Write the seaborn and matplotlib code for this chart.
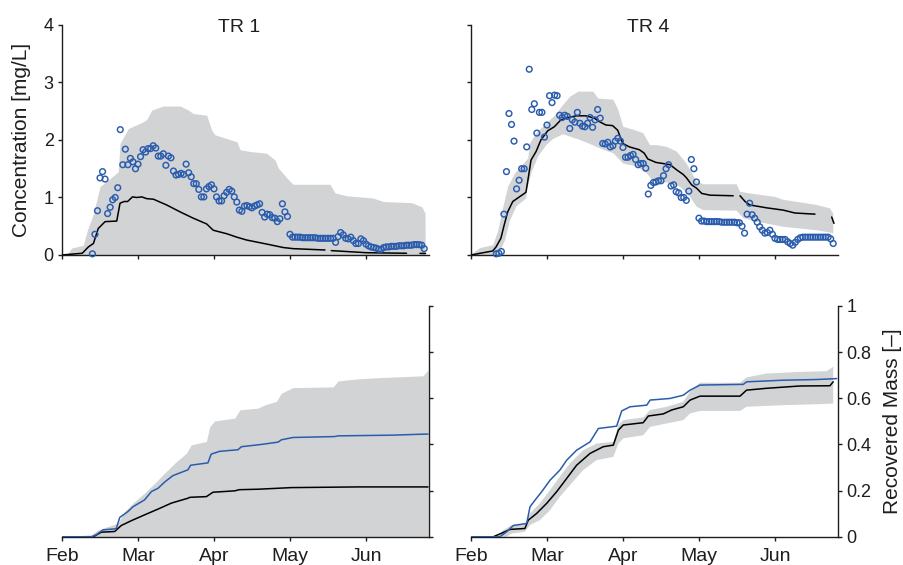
import numpy as np
import pandas as pd
import matplotlib
matplotlib.use("Agg")
import matplotlib.pyplot as plt
import seaborn as sns

nan = np.nan

# ---------------- axis / label data ----------------
month_ticks = [0, 30, 60, 90, 120]
month_labels = ["Feb", "Mar", "Apr", "May", "Jun"]
conc_ticks = [0, 1, 2, 3, 4]
mass_ticks = [0, 0.2, 0.4, 0.6, 0.8, 1.0]
mass_tick_labels = ["0", "0.2", "0.4", "0.6", "0.8", "1"]
panel_titles = ["TR 1", "TR 4"]

# ---------------- TR 1 concentration ----------------
tr1_obs_first_day = 12
tr1_obs = [0.02, 0.36, 0.77, 1.34, 1.45, 1.32, 0.72, 0.83, 0.96, 1.00, 1.17,
           2.18, 1.57, 1.84, 1.57, 1.68, 1.62, 1.50, 1.58, 1.71, 1.83,
           1.79, 1.85, 1.85, 1.90, 1.86, 1.72, 1.72, 1.76, 1.56, 1.72,
           1.69, 1.46, 1.39, 1.40, 1.42, 1.40, 1.58, 1.43, 1.36, 1.24,
           1.24, 1.14, 1.01, 1.01, 1.15, 1.19, 1.22, 1.15, 1.01, 0.94,
           0.94, 1.03, 1.09, 1.14, 1.11, 1.01, 0.92, 0.78, 0.76, 0.85,
           0.86, 0.84, 0.82, 0.85, 0.87, 0.89, 0.74, 0.66, 0.71, 0.70,
           0.65, 0.64, 0.58, 0.63, 0.89, 0.75, 0.67, 0.36, 0.31, 0.31,
           0.31, 0.31, 0.30, 0.30, 0.30, 0.30, 0.30, 0.30, 0.29, 0.29,
           0.29, 0.29, 0.29, 0.29, 0.29, 0.22, 0.32, 0.39, 0.35, 0.29,
           0.28, 0.31, 0.25, 0.20, 0.20, 0.28, 0.25, 0.19, 0.16, 0.14,
           0.13, 0.12, 0.10, 0.10, 0.13, 0.14, 0.14, 0.15, 0.15, 0.15,
           0.16, 0.16, 0.16, 0.17, 0.17, 0.17, 0.18, 0.18, 0.18, 0.17, 0.11]

tr1_sim_days = [0, 8, 10.4, 12.4, 14.3, 17, 21.6, 22.9, 24.5, 25.9, 27.8, 29.5,
                31.5, 33.4, 36.1, 41.3, 46.6, 51.8, 57.1, 59.7, 65, 69, 72.9,
                80.8, 87.3, 91.3, 103.8, nan, 106.3, 120, 136, nan, 141.3, 143.5]
tr1_sim = [0, 0.03, 0.14, 0.20, 0.46, 0.58, 0.59, 0.90, 0.93, 0.93, 1.01, 1.00,
           1.01, 0.98, 0.97, 0.87, 0.75, 0.64, 0.54, 0.43, 0.37, 0.31, 0.26,
           0.19, 0.13, 0.11, 0.087, nan, 0.076, 0.04, 0.03, nan, 0.028, 0.027]

tr1_band_days = [1.8, 3.8, 8.4, 10, 12.4, 15, 19, 22.2, 22.9, 26.2, 30.8, 33.4,
                 35.4, 40, 46.6, 49.9, 51.8, 57.1, 59.1, 60.4, 69, 70.3, 74.2,
                 80.8, 84.1, 85.4, 90, 91.3, 105.8, 107.8, 112.4, 122.9, 126.8,
                 138, 142, 143.3, 143.4]
tr1_band_hi = [0, 0.12, 0.17, 0.43, 0.72, 1.19, 1.33, 1.45, 1.94, 2.20, 2.29, 2.35,
               2.52, 2.59, 2.59, 2.52, 2.46, 2.43, 2.17, 2.09, 1.97, 1.83, 1.80,
               1.77, 1.65, 1.51, 1.28, 1.23, 1.23, 1.08, 1.03, 0.99, 0.93,
               0.91, 0.84, 0.73, 0]

# ---------------- TR 4 concentration ----------------
tr4_obs_first_day = 10
tr4_obs = [0.02, 0.03, 0.06, 0.71, 1.45, 2.46, 2.27, 1.98, 1.15, 1.30,
           1.50, 1.50, 1.88, 3.23, 2.53, 2.63, 2.12, 2.48, 2.48, 2.05,
           2.26, 2.77, 2.65, 2.78, 2.77, 2.43, 2.39, 2.43, 2.41, 2.20,
           2.35, 2.31, 2.48, 2.29, 2.24, 2.23, 2.29, 2.39, 2.22, 2.35,
           2.53, 2.38, 1.94, 1.93, 1.96, 1.88, 1.90, 1.98, 2.03, 1.98,
           1.87, 1.70, 1.70, 1.73, 1.75, 1.66, 1.57, 1.59, 1.59, 1.51,
           1.06, 1.21, 1.26, 1.27, 1.29, 1.29, 1.38, 1.50, 1.57, 1.20,
           1.22, 1.10, 1.08, 1.00, 1.00, 0.95, 1.11, 1.66, 1.50, 1.27,
           0.64, 0.59, 0.59, 0.58, 0.58, 0.58, 0.58, 0.58, 0.58, 0.57,
           0.57, 0.57, 0.57, 0.57, 0.57, 0.56, 0.56, 0.50, 0.38, 0.71,
           0.90, 0.70, 0.64, 0.57, 0.49, 0.43, 0.38, 0.39, 0.43, 0.36,
           0.29, 0.27, 0.27, 0.27, 0.27, 0.23, 0.20, 0.17, 0.22, 0.27,
           0.30, 0.31, 0.31, 0.31, 0.31, 0.31, 0.31, 0.31, 0.31, 0.31,
           0.31, 0.31, 0.28, 0.20]

tr4_sim_days = [0, 8.6, 9.9, 11.8, 13.1, 14.5, 16.5, 19.1, 21.7, 22.4, 23.7, 25.7,
                27.6, 30.3, 32.9, 35.5, 38.2, 41.5, 45.4, 48.7, 50.6, 53.3, 55.9,
                57.9, 59.9, 62.5, 66.5, 68.4, 69.8, 73.0, 75.9, 78.6, 81.2, 83.8,
                85.1, 87.1, 89.1, 91.1, 94.4, 103.5, nan, 106.2, 108.2, 110.1,
                116.7, 123.3, 127.9, 135.8, nan, 142.4, 143.3]
tr4_sim = [0, 0.07, 0.14, 0.29, 0.52, 0.75, 0.93, 1.01, 1.09, 1.28, 1.65, 1.80,
           2.00, 2.16, 2.23, 2.35, 2.39, 2.42, 2.42, 2.38, 2.32, 2.26, 2.25,
           2.17, 1.94, 1.88, 1.83, 1.77, 1.67, 1.61, 1.59, 1.57, 1.48, 1.40,
           1.34, 1.22, 1.16, 1.07, 1.04, 1.03, nan, 1.03, 0.93, 0.87,
           0.82, 0.78, 0.73, 0.71, nan, 0.66, 0.55]

tr4_band_hi_days = [0, 3.6, 8.8, 10.8, 12.8, 14.7, 17.4, 20.0, 22.6, 23.3, 25.9,
                    29.2, 33.2, 36.4, 39.1, 42.4, 48.3, 50.3, 56.2, 58.2, 60.1,
                    64.7, 68.0, 70.7, 73.3, 77.3, 81.2, 85.1, 89.1, 91.7, 104.9,
                    106.2, 110.1, 120, 123.3, 136.5, 141.7, 143]
tr4_band_hi = [0, 0.12, 0.17, 0.43, 0.84, 1.19, 1.42, 1.54, 1.68, 1.94, 2.12,
               2.26, 2.43, 2.61, 2.75, 2.84, 2.84, 2.72, 2.70, 2.52, 2.23,
               2.17, 2.12, 1.91, 1.91, 1.88, 1.80, 1.59, 1.28, 1.23, 1.23,
               1.10, 1.07, 1.01, 0.96, 0.87, 0.81, 0.72]
tr4_band_lo_days = [0, 10.8, 13.4, 15.4, 18.0, 21.7, 22.2, 24.0, 26.6, 29.9, 32.5,
                    36.4, 42.4, 47.0, 52.2, 56.2, 60.1, 65.4, 69.4, 72.0, 77.3,
                    82.5, 86.5, 89.1, 91.7, 104.9, 107.5, 112.8, 123.3, 136.5, 143]
tr4_band_lo = [0, 0, 0.25, 0.60, 0.85, 0.98, 1.15, 1.45, 1.72, 1.92, 2.02,
               2.10, 2.01, 1.93, 1.83, 1.77, 1.59, 1.54, 1.42, 1.28, 1.26,
               1.19, 1.01, 0.84, 0.78, 0.77, 0.64, 0.58, 0.49, 0.43, 0.38]

# ---------------- TR 1 recovered mass ----------------
tr1_mass_obs_days = [0, 11.6, 13.5, 16.2, 21.4, 22.8, 26.1, 28.0, 32.6, 35.3, 37.9,
                     40.5, 43.8, 49.7, 50.8, 57.6, 58.9, 62.2, 69.5, 70.8, 78.7,
                     85.3, 86.6, 91.2, 107.6, 109, 130, 144.5]
tr1_mass_obs = [0, 0, 0.009, 0.03, 0.035, 0.084, 0.11, 0.13, 0.16, 0.196, 0.21,
                0.237, 0.265, 0.29, 0.31, 0.32, 0.358, 0.37, 0.377, 0.39, 0.40,
                0.41, 0.42, 0.43, 0.434, 0.437, 0.44, 0.445]
tr1_mass_sim_days = [0, 12.3, 15.5, 20.8, 23.4, 27.4, 32.6, 37.9, 43.2, 49.7, 50.5,
                     57.0, 59.6, 68.2, 70, 77.4, 90.5, 116.9, 144.5]
tr1_mass_sim = [0, 0, 0.02, 0.023, 0.049, 0.07, 0.095, 0.12, 0.146, 0.167, 0.171,
                0.174, 0.193, 0.199, 0.204, 0.206, 0.213, 0.216, 0.216]
tr1_mass_band_days = [0, 11.6, 14.2, 18.2, 22.1, 24.7, 28.7, 32.6, 36.6, 40.5, 44.5,
                      49.1, 51.0, 57.0, 58.3, 60.3, 68.2, 70.2, 77.4, 80.0, 84.6,
                      86.6, 91.2, 107, 109, 116.9, 126.7, 142.5, 144.5]
tr1_mass_band_hi = [0, 0.009, 0.03, 0.045, 0.059, 0.11, 0.153, 0.19, 0.232, 0.276,
                    0.319, 0.362, 0.398, 0.413, 0.477, 0.502, 0.514, 0.55, 0.557,
                    0.571, 0.586, 0.622, 0.646, 0.649, 0.675, 0.684, 0.69, 0.697, 0.723]

# ---------------- TR 4 recovered mass ----------------
tr4_mass_obs_days = [0, 11.4, 14.1, 16.7, 22.0, 23.3, 25.3, 27.9, 31.2, 35.1, 37.8,
                     41.7, 47.0, 50.3, 57.5, 59.5, 62.8, 69.4, 70.7, 78.6, 83.8,
                     86.5, 90.4, 107.5, 108.8, 123.3, 136.5, 144.4]
tr4_mass_obs = [0, 0, 0.022, 0.049, 0.058, 0.13, 0.159, 0.195, 0.245, 0.289, 0.332,
                0.375, 0.411, 0.469, 0.479, 0.545, 0.563, 0.57, 0.592, 0.599, 0.613,
                0.635, 0.657, 0.66, 0.671, 0.678, 0.681, 0.685]
tr4_mass_sim_days = [0, 8.8, 13.4, 15.4, 21.3, 22.6, 25.9, 29.9, 33.8, 37.8, 41.7,
                     47.0, 52.2, 56.2, 58.2, 60.1, 68.0, 70.0, 75.9, 79.2, 83.8,
                     86.5, 90.4, 106.2, 108.8, 116.7, 129.9, 141.7, 143]
tr4_mass_sim = [0, 0, 0.022, 0.032, 0.036, 0.072, 0.101, 0.145, 0.195, 0.253, 0.31,
                0.361, 0.39, 0.397, 0.462, 0.484, 0.494, 0.523, 0.532, 0.549, 0.563,
                0.592, 0.609, 0.609, 0.635, 0.643, 0.653, 0.654, 0.671]
tr4_mass_band_hi_days = [0, 10, 12.8, 16.1, 21.3, 23.3, 27.2, 31.2, 35.1, 39.1, 44.3,
                         49.6, 56.2, 58.2, 60.1, 68.0, 70.7, 77.3, 83.8, 86.5, 90.4,
                         106.2, 108.8, 116.7, 129.9, 140.4, 143]
tr4_mass_band_hi = [0, 0, 0.029, 0.051, 0.054, 0.101, 0.145, 0.202, 0.261, 0.318,
                    0.375, 0.404, 0.411, 0.484, 0.505, 0.517, 0.549, 0.563, 0.585,
                    0.628, 0.667, 0.667, 0.69, 0.707, 0.714, 0.717, 0.736]
tr4_mass_band_lo_days = [0, 14, 16.1, 21.3, 23.3, 27.2, 31.2, 35.1, 39.1, 44.3, 49.6,
                         56.2, 58.2, 60.1, 68.0, 70.7, 77.3, 83.8, 86.5, 90.4, 106.2,
                         108.8, 123.3, 136.5, 143]
tr4_mass_band_lo = [0, 0, 0.014, 0.022, 0.051, 0.072, 0.115, 0.174, 0.224, 0.289,
                    0.332, 0.346, 0.404, 0.426, 0.44, 0.476, 0.491, 0.505, 0.534,
                    0.545, 0.545, 0.563, 0.57, 0.574, 0.577]

# ---------------- style ----------------
sns.set_style("ticks")
plt.rcParams['font.family'] = ['Liberation Sans', 'DejaVu Sans']
ink = "#1e1e1e"
blue = "#2a5cad"
band = "#d1d3d5"
plt.rcParams.update({
    "axes.edgecolor": ink, "axes.linewidth": 1.0,
    "xtick.color": ink, "ytick.color": ink,
    "xtick.major.size": 3.0, "ytick.major.size": 3.0,
    "xtick.major.width": 1.0, "ytick.major.width": 1.0,
    "text.color": ink, "axes.labelcolor": ink,
})

fig = plt.figure(figsize=(9.04, 5.65), dpi=100)
L1, L2, W = 0.0686, 0.5210, 0.4063
BT, HT = 0.5487, 0.4071
BB, HB = 0.0499, 0.4088
ax_c1 = fig.add_axes([L1, BT, W, HT])
ax_c4 = fig.add_axes([L2, BT, W, HT])
ax_m1 = fig.add_axes([L1, BB, W, HB])
ax_m4 = fig.add_axes([L2, BB, W, HB])


def draw_line(ax, days, vals, color, lw=1.1):
    df = pd.DataFrame({"day": days, "val": vals})
    seg = df["day"].isna().cumsum()
    for _, part in df.dropna().groupby(seg[df["day"].notna()]):
        sns.lineplot(data=part, x="day", y="val", ax=ax, color=color, lw=lw,
                     estimator=None, sort=False, zorder=3)


def draw_obs(ax, first_day, vals):
    days = np.arange(first_day, first_day + len(vals))
    sns.scatterplot(x=days, y=vals, ax=ax, marker="o", s=17,
                    facecolors="none", edgecolor=blue, linewidth=1.05,
                    zorder=4, clip_on=False)


# TR 1 concentration
ax_c1.fill_between(tr1_band_days, 0, tr1_band_hi, color=band, lw=0, zorder=1)
draw_line(ax_c1, tr1_sim_days, tr1_sim, "black")
draw_obs(ax_c1, tr1_obs_first_day, tr1_obs)

# TR 4 concentration
ax_c4.fill(list(tr4_band_hi_days) + list(tr4_band_lo_days[::-1]),
           list(tr4_band_hi) + list(tr4_band_lo[::-1]), color=band, lw=0, zorder=1)
draw_line(ax_c4, tr4_sim_days, tr4_sim, "black")
draw_obs(ax_c4, tr4_obs_first_day, tr4_obs)

# TR 1 mass
ax_m1.fill_between(tr1_mass_band_days, 0, tr1_mass_band_hi, color=band, lw=0, zorder=1)
draw_line(ax_m1, tr1_mass_sim_days, tr1_mass_sim, "black")
draw_line(ax_m1, tr1_mass_obs_days, tr1_mass_obs, blue)

# TR 4 mass
ax_m4.fill(list(tr4_mass_band_hi_days) + list(tr4_mass_band_lo_days[::-1]),
           list(tr4_mass_band_hi) + list(tr4_mass_band_lo[::-1]),
           color=band, lw=0, zorder=1)
draw_line(ax_m4, tr4_mass_sim_days, tr4_mass_sim, "black")
draw_line(ax_m4, tr4_mass_obs_days, tr4_mass_obs, blue)

for ax in (ax_c1, ax_c4, ax_m1, ax_m4):
    ax.set_xlim(0, 145)
    ax.set_xticks(month_ticks)
    ax.set_xlabel("")
    ax.set_ylabel("")
    ax.spines["top"].set_visible(False)
    ax.tick_params(axis="both", direction="out", labelsize=13, pad=3)

for ax, title in zip((ax_c1, ax_c4), panel_titles):
    ax.set_ylim(0, 4)
    ax.set_yticks(conc_ticks)
    ax.spines["right"].set_visible(False)
    ax.tick_params(axis="x", labelbottom=False)
    ax.text(0.483, 0.991, title, transform=ax.transAxes, ha="center",
            va="center", fontsize=14)

ax_c1.set_yticklabels([str(t) for t in conc_ticks])
ax_c4.tick_params(axis="y", labelleft=False)
ax_c1.set_ylabel("Concentration [mg/L]", fontsize=15, labelpad=9)

for ax in (ax_m1, ax_m4):
    ax.set_ylim(0, 1)
    ax.spines["left"].set_visible(False)
    ax.yaxis.tick_right()
    ax.set_yticks(mass_ticks)
    ax.set_xticklabels(month_labels)
    ax.tick_params(axis="x", labelsize=14, pad=5)

ax_m1.tick_params(axis="y", labelright=False)
ax_m4.set_yticklabels(mass_tick_labels)
ax_m4.yaxis.set_label_position("right")
ax_m4.set_ylabel("Recovered Mass [–]", fontsize=15, labelpad=8)

fig.savefig("out.png", dpi=100)
